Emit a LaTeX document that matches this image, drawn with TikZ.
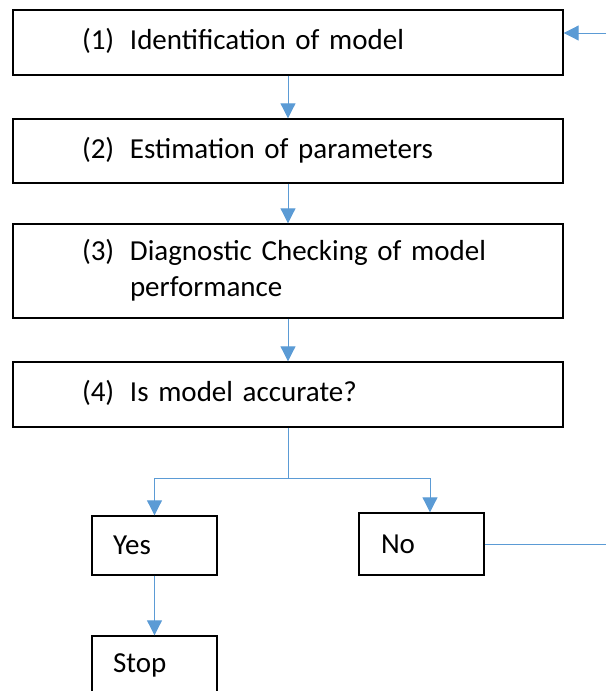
\documentclass[tikz,border=0pt]{standalone}
\usepackage{fontspec}
\setmainfont{Carlito}
\usepackage{tikz}
\usetikzlibrary{arrows.meta,calc,positioning}
\definecolor{linkblue}{HTML}{5B9BD5}
\newcommand{\numitem}[2]{\hspace*{69pt}\makebox[48pt][l]{(#1)}\begin{tabular}[t]{@{}l@{}}#2\end{tabular}}

\begin{document}
\begin{tikzpicture}[x=1pt,y=-1pt,
    every node/.style={font=\fontsize{29}{36}\selectfont},
    stagebox/.style={draw=black,line width=1.4pt,minimum width=550pt,inner xsep=0pt,text width=550pt,align=left},
    smallbox/.style={draw=black,line width=1.4pt,minimum width=125pt,minimum height=59pt,inner xsep=0pt,text width=125pt,align=left},
    flow/.style={-{Triangle[length=15pt,width=15pt]},linkblue,line width=1pt},
    link/.style={linkblue,line width=1pt}]
  \useasboundingbox (0,0) rectangle (606,691);
  \clip (0,0) rectangle (606,691);
  \coordinate (edge) at (606,0);
  % main stages
  \node[stagebox,minimum height=65pt] (b1) at (288,42.5) {\numitem{1}{Identification of model}};
  \node[stagebox,minimum height=64pt] (b2) at (288,151) {\numitem{2}{Estimation of parameters}};
  \node[stagebox,minimum height=94pt] (b3) at (288,271) {\numitem{3}{Diagnostic Checking of model\\performance}};
  \node[stagebox,minimum height=65pt] (b4) at (288,394.5) {\numitem{4}{Is model accurate?}};
  % outcomes
  \node[smallbox] (yes) at (154.5,545.5) {\hspace*{21pt}Yes};
  \node[smallbox,minimum height=62pt] (no) at (421.5,544) {\hspace*{22pt}No};
  \node[smallbox] (stop) at (154.5,665.5) {\hspace*{21pt}Stop};
  \foreach \a/\b in {b1/b2,b2/b3,b3/b4,yes/stop}{
    \draw[flow] (\a) -- (\b);
  }
  \draw[link] (b4.south) -- ++(0,51) coordinate (split);
  \draw[flow] (split) -| (yes);
  \draw[flow] (split) -| ([xshift=8.5pt]no.north);
  % loop back
  \draw[link] (no.east) -- (no.east -| edge);
  \draw[flow] ([yshift=9.5pt]b1.east -| edge) -- ([yshift=9.5pt]b1.east);
\end{tikzpicture}
\end{document}
